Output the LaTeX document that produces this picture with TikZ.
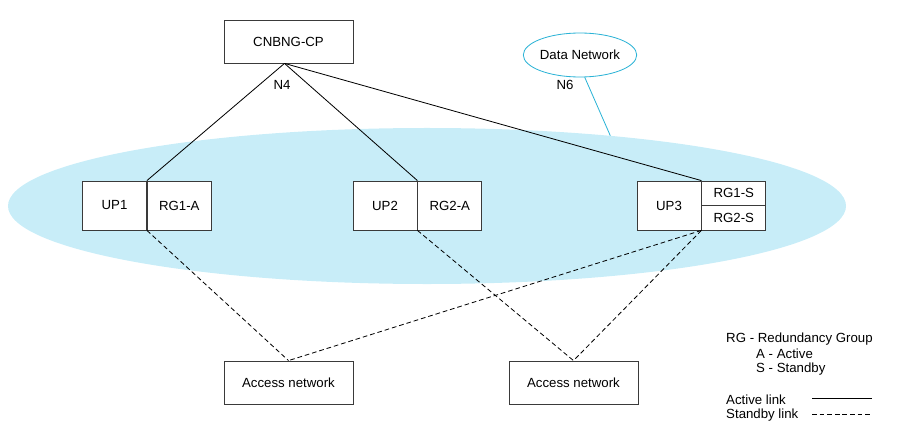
\documentclass[tikz,border=0pt]{standalone}
\usepackage{fontspec}
\setmainfont{Liberation Sans}
\usetikzlibrary{positioning, shapes.geometric}

\definecolor{ringfill}{HTML}{C8EDF8}
\definecolor{dnline}{HTML}{2BB3D6}
\definecolor{boxline}{HTML}{3A3A3A}

\begin{document}
\begin{tikzpicture}[
    x=0.03cm, y=-0.03cm,
    every node/.style = {font=\fontsize{11.3}{13}\selectfont},
    box/.style     = {rectangle, draw=boxline, fill=white, line width=0.7pt, inner sep=0pt},
    cpbox/.style   = {box, minimum width=3.87cm, minimum height=1.29cm},
    upbox/.style   = {box, minimum width=1.92cm, minimum height=1.47cm},
    rgbox/.style   = {box, minimum width=1.92cm, minimum height=0.735cm},
    act/.style     = {draw=black, line width=0.7pt},
    stby/.style    = {draw=black, line width=0.7pt, dash pattern=on 4pt off 2.5pt},
    lbl/.style     = {inner sep=0pt, anchor=west},
]
\useasboundingbox (0,0) rectangle (900,425);

%% ---- Shared UP plane (background) ----
\node[ellipse, fill=ringfill, minimum width=25.14cm, minimum height=4.68cm, inner sep=0pt]
    (ring) at (427,206) {};

%% ---- Control plane and data network ----
\node[cpbox] (cp) at (288.5,41.5) {CNBNG-CP};
\node[ellipse, draw=dnline, fill=white, line width=0.7pt,
      minimum width=3.36cm, minimum height=1.32cm, inner sep=0pt]
    (dn) at (580,55) {Data Network};
\coordinate (cpfoot) at ([xshift=-0.12cm]cp.south);

%% ---- User planes ----
\node[upbox] (up1) at (114.5,205.5) {UP1};
\node[upbox, right=0pt of up1] (rg1a) {RG1-A};

\node[upbox] (up2) at (385,205.5) {UP2};
\node[upbox, right=0pt of up2] (rg2a) {RG2-A};

\node[upbox] (up3) at (669,205.5) {UP3};
\node[rgbox, anchor=north west] (rg1s) at (up3.north east) {RG1-S};
\node[rgbox, anchor=south west] (rg2s) at (up3.south east) {RG2-S};

%% ---- Access networks ----
\node[cpbox] (acc1) at (288.5,382.5) {Access network};
\node[cpbox] (acc2) at (573.5,382.5) {Access network};

%% ---- N4 links (active) ----
\draw[act] (cpfoot) -- (up1.north east);
\draw[act] (cpfoot) -- (up2.north east);
\draw[act] (cpfoot) -- (up3.north east);
\node at (282,85) {N4};

%% ---- N6 ----
\draw[dnline, line width=0.7pt] (dn.282) -- (ring.21.5);
\node at (565,85) {N6};

%% ---- Access links ----
\draw[stby] (up1.south east) -- (acc1.north);
\draw[stby] (up2.south east) -- (acc2.north);
\draw[stby] (up3.south east) -- (acc1.north);
\draw[stby] (up3.south east) -- (acc2.north);

%% ---- Legend ----
\node[lbl] (lgrg) at (726,339) {RG - Redundancy Group};
\node[lbl] (lga)  at (756,354) {A - Active};
\node[lbl] (lgs)  at (756,369) {S - Standby};
\node[lbl] (lgact) at (726,400) {Active link};
\node[lbl] (lgsb)  at (726,415) {Standby link};
\coordinate (la1) at (812,398);  \coordinate (la2) at (872,398);
\coordinate (ls1) at (812,414);  \coordinate (ls2) at (872,414);
\draw[act]  (la1) -- (la2);
\draw[stby] (ls1) -- (ls2);

\end{tikzpicture}
\end{document}
